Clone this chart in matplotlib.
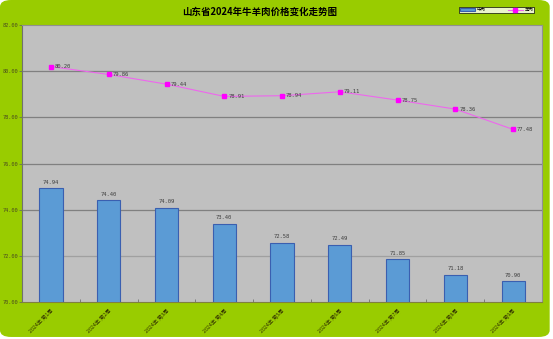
import numpy as np
import matplotlib
matplotlib.use('Agg')
import matplotlib.pyplot as plt
from matplotlib.patches import FancyBboxPatch

plt.rcParams['font.family'] = ['Noto Sans CJK SC', 'DejaVu Sans']
plt.rcParams['axes.unicode_minus'] = False

weeks = ['2024年 第%d周' % i for i in range(1, 10)]
beef = [74.94, 74.40, 74.09, 73.40, 72.58, 72.49, 71.85, 71.18, 70.90]    # 牛肉
mutton = [80.20, 79.86, 79.44, 78.91, 78.94, 79.11, 78.75, 78.36, 77.48]  # 羊肉
yticks = [70, 72, 74, 76, 78, 80, 82]

fig = plt.figure(figsize=(5.53, 3.39), dpi=100, facecolor='white')

# 绿色圆角背景
bg = FancyBboxPatch((0.0, 0.006), 0.994, 0.994, boxstyle='round,pad=0,rounding_size=0.02',
                    transform=fig.transFigure, facecolor='#99CC00', edgecolor='none', zorder=-10)
fig.patches.append(bg)

ax = fig.add_axes([0.040, 0.109, 0.940, 0.817])
ax.set_facecolor('#C0C0C0')

x = np.arange(len(weeks))
bars = ax.bar(x, beef, width=0.4, color='#5B9BD5', edgecolor='#3A5FB0', linewidth=0.8,
              label='牛肉', zorder=3)
line, = ax.plot(x, mutton, color='#EE66EE', linewidth=0.8, marker='s', markersize=2.5,
                markerfacecolor='#FF00FF', markeredgecolor='#FF00FF', label='羊肉', zorder=4)

for xi, v in zip(x, beef):
    ax.text(xi, v + 0.15, '%.2f' % v, ha='center', va='bottom', fontsize=4,
            color='#404040', family='DejaVu Sans Mono', zorder=5)
for xi, v in zip(x, mutton):
    ax.text(xi + 0.07, v, '%.2f' % v, ha='left', va='center', fontsize=4,
            color='#404040', family='DejaVu Sans Mono', zorder=5)

ax.set_xlim(-0.5, len(weeks) - 0.5)
ax.set_ylim(70, 82)
ax.set_yticks(yticks)
ax.set_yticklabels(['%.2f' % t for t in yticks], fontsize=3.8, color='#4A4A20',
                   family='DejaVu Sans Mono')
ax.set_xticks(x)
ax.set_xticklabels(weeks, rotation=45, ha='right', rotation_mode='anchor',
                   fontsize=3.8, color='#333300')
ax.tick_params(axis='x', length=0, pad=4)
ax.tick_params(axis='y', length=2, width=0.5, color='#606060', pad=1)
ax.set_xticks(x[:-1] + 0.5, minor=True)
ax.tick_params(axis='x', which='minor', direction='in', length=2, width=0.5, color='#606060')

for t in yticks[1:-1]:
    ax.axhline(t, color='#808080' if t != 72 else '#A0A0A0', linewidth=0.9, zorder=1)

for s in ax.spines.values():
    s.set_color('#909090')
    s.set_linewidth(0.8)
ax.spines['left'].set_color('#707070')
ax.spines['bottom'].set_color('#808040')

fig.text(0.47, 0.965, '山东省2024年牛羊肉价格变化走势图', ha='center', va='center',
         fontsize=6.8, fontweight='bold', color='black')

leg = ax.legend([bars, line], ['牛肉', '羊肉'], loc='center', bbox_to_anchor=(0.898, 0.971),
                bbox_transform=fig.transFigure, ncol=2, fontsize=3.2, frameon=True,
                fancybox=False, borderpad=0.15, handlelength=3.5, handleheight=0.5,
                columnspacing=5, handletextpad=0.3)
leg.get_frame().set_edgecolor('black')
leg.get_frame().set_linewidth(0.6)
leg.get_frame().set_facecolor('white')

fig.savefig('out.png', dpi=100, facecolor=fig.get_facecolor())
